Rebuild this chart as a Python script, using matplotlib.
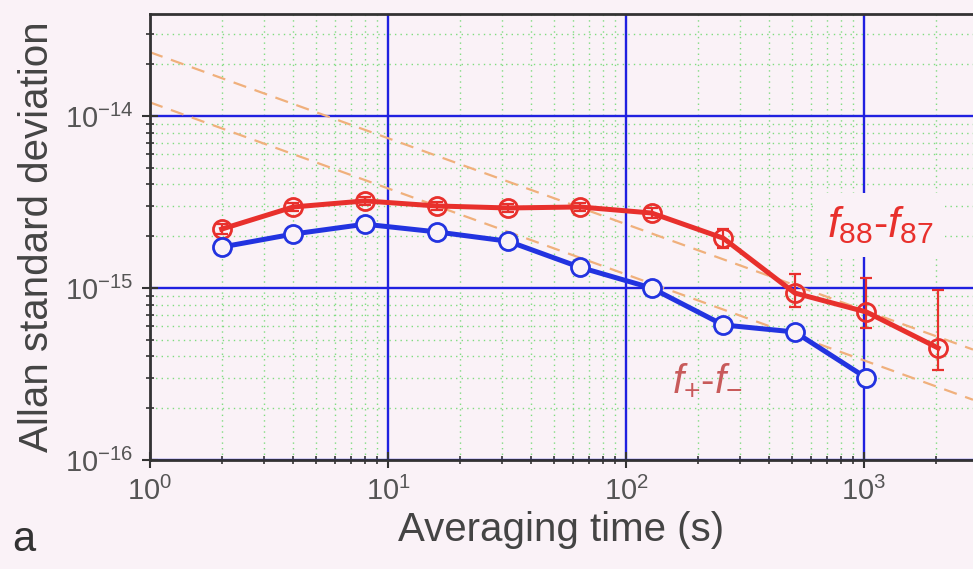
import matplotlib.pyplot as plt
import numpy as np

plt.rcParams['font.family'] = ['Liberation Sans', 'DejaVu Sans']
plt.rcParams['mathtext.fontset'] = 'custom'
plt.rcParams['mathtext.rm'] = 'Liberation Sans'
plt.rcParams['mathtext.it'] = 'Liberation Sans:italic'

# averaging times (s)
tau_red = [2, 4, 8, 16, 32, 64, 128, 256, 512, 1024, 2048]
tau_blue = [2, 4, 8, 16, 32, 64, 128, 256, 512, 1024]

# f88 - f87 Allan deviation and error bar limits
adev_red = [2.20e-15, 2.96e-15, 3.21e-15, 3.00e-15, 2.92e-15, 2.96e-15, 2.73e-15, 1.95e-15, 0.935e-15, 0.725e-15, 0.448e-15]
red_hi = [2.35e-15, 3.12e-15, 3.40e-15, 3.15e-15, 3.08e-15, 3.12e-15, 2.90e-15, 2.20e-15, 1.20e-15, 1.14e-15, 0.97e-15]
red_lo = [2.07e-15, 2.80e-15, 3.03e-15, 2.85e-15, 2.76e-15, 2.80e-15, 2.57e-15, 1.72e-15, 0.78e-15, 0.585e-15, 0.333e-15]

# f+ - f- Allan deviation
adev_blue = [1.73e-15, 2.06e-15, 2.35e-15, 2.12e-15, 1.87e-15, 1.32e-15, 1.00e-15, 0.61e-15, 0.555e-15, 0.30e-15]

# tau^-1/2 guide lines (value at tau = 1 s)
guide_coefs = [2.35e-14, 1.2e-14]

bg = '#faf2f7'
red = '#e8302c'
blue = '#2233e0'

fig = plt.figure(figsize=(9.73, 5.69), dpi=100, facecolor=bg)
ax = fig.add_axes([150/973, 109/569, 823/973, 446/569], facecolor=bg)
ax.set_xscale('log')
ax.set_yscale('log')
ax.set_xlim(1, 2870)
ax.set_ylim(1e-16, 3.92e-14)

# grid
ax.grid(which='minor', color='#7fdc7f', linestyle=(0, (1, 3)), linewidth=1.0)
ax.grid(which='major', color='#2020e0', linestyle='-', linewidth=1.7)
ax.set_axisbelow(True)

# guide lines
t = np.array([1, 2870])
for c in guide_coefs:
    ax.plot(t, c / np.sqrt(t), color='#f0b07c', linestyle=(0, (6, 4)), linewidth=1.6, zorder=2)

# data
tr = np.array(tau_red)
yr = np.array(adev_red)
ax.errorbar(tr, yr, yerr=[yr - np.array(red_lo), np.array(red_hi) - yr],
            fmt='none', ecolor=red, elinewidth=1.6, capsize=4, capthick=1.6, zorder=3)
ax.plot(tau_red, adev_red, color=red, linewidth=3.6, marker='o', markersize=13,
        markerfacecolor='none', markeredgecolor=red, markeredgewidth=2, zorder=4)
ax.plot(tau_blue, adev_blue, color=blue, linewidth=3.6, marker='o', markersize=13,
        markerfacecolor=bg, markeredgecolor=blue, markeredgewidth=2, zorder=4)

# labels
ax.text(1170, 2.32e-15, r'$f_{88}$-$f_{87}$', color=red, fontsize=31, ha='center', va='center',
        bbox=dict(facecolor=bg, edgecolor='none', pad=8), zorder=5)
ax.text(219, 2.92e-16, r'$f_{+}$-$f_{-}$', color='#c85a5a', fontsize=29, ha='center', va='center', zorder=5)

ax.set_xlabel('Averaging time (s)', fontsize=29, color='#444444', labelpad=4)
ax.set_ylabel('Allan standard deviation', fontsize=29, color='#444444', labelpad=6)
fig.text(12/973, 1 - 540/569, 'a', fontsize=30, color='#333333', va='center')

ax.set_xticks([1, 10, 100, 1000])
ax.set_xticklabels([r'$10^{0}$', r'$10^{1}$', r'$10^{2}$', r'$10^{3}$'])
ax.set_yticks([1e-16, 1e-15, 1e-14])
ax.set_yticklabels([r'$10^{-16}$', r'$10^{-15}$', r'$10^{-14}$'])
ax.tick_params(which='major', direction='inout', length=12, width=1.5, labelsize=21,
               labelcolor='#555555', color='#333333', pad=6)
ax.tick_params(which='minor', direction='inout', length=6, width=1.2, color='#333333')

for s in ['left', 'bottom', 'top']:
    ax.spines[s].set_color('#333333')
    ax.spines[s].set_linewidth(2)
ax.spines['right'].set_visible(False)

fig.savefig('out.png', dpi=100, facecolor=bg)
